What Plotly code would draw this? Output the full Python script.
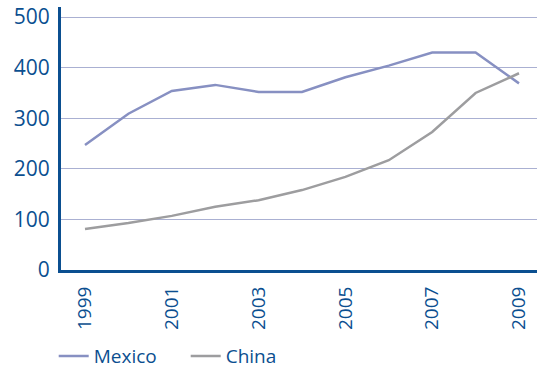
import plotly.graph_objects as go

years = [1999, 2000, 2001, 2002, 2003, 2004, 2005, 2006, 2007, 2008, 2009]
mexico = [247, 309, 354, 366, 352, 352, 381, 404, 430, 430, 369]
china = [81, 93, 107, 125, 138, 158, 184, 217, 273, 350, 389]
tick_years = [1999, 2001, 2003, 2005, 2007, 2009]
y_ticks = [0, 100, 200, 300, 400, 500]

blue = "#0b4f90"
font_fam = "Open Sans, Noto Sans, sans-serif"

fig = go.Figure()
fig.add_trace(go.Scatter(x=years, y=mexico, mode="lines", name="Mexico",
                         line=dict(color="#8790c2", width=2.5)))
fig.add_trace(go.Scatter(x=years, y=china, mode="lines", name="China",
                         line=dict(color="#9d9d9f", width=2.5)))

fig.update_layout(
    width=537, height=371,
    margin=dict(l=61, r=0, t=7, b=101),
    paper_bgcolor="white", plot_bgcolor="white",
    font=dict(family=font_fam, color=blue, size=19),
    showlegend=True,
    legend=dict(orientation="h", xref="container", yref="container",
                x=0.1, y=0.04, xanchor="left", yanchor="middle",
                font=dict(size=19, color=blue), itemwidth=30,
                entrywidth=87, tracegroupgap=0),
    xaxis=dict(range=[1998.447, 2009.415], tickvals=tick_years,
               ticktext=[str(t) for t in tick_years], tickangle=-90,
               showgrid=False, zeroline=False, showline=True,
               linecolor=blue, linewidth=3, ticks="", ticklabelstandoff=6,
               tickfont=dict(size=19, color=blue)),
    yaxis=dict(range=[0, 520], tickvals=y_ticks, showgrid=True,
               gridcolor="#aab0d2", gridwidth=1, zeroline=False,
               showline=True, linecolor=blue, linewidth=3, ticks="",
               ticklabelstandoff=4,
               tickfont=dict(size=21, color=blue)),
)

fig.write_html("out.html")
